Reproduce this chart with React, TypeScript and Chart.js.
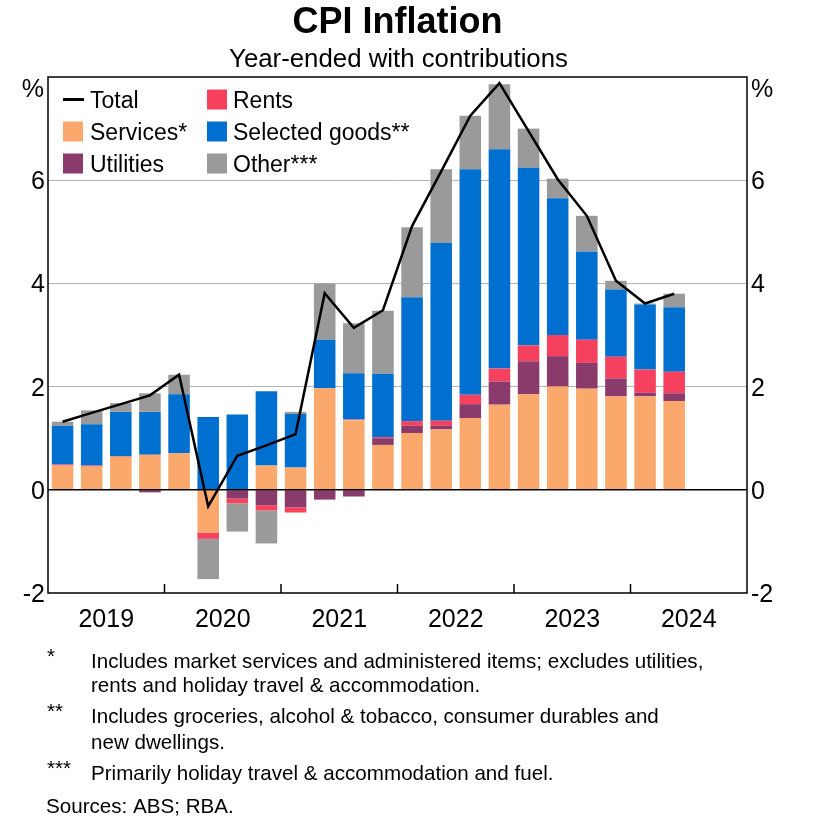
import React, { useEffect, useRef } from 'react';
import { Chart, registerables } from 'chart.js';

Chart.register(...registerables);

// ---- Data ----
const quarters = [
  'Mar-19', 'Jun-19', 'Sep-19', 'Dec-19',
  'Mar-20', 'Jun-20', 'Sep-20', 'Dec-20',
  'Mar-21', 'Jun-21', 'Sep-21', 'Dec-21',
  'Mar-22', 'Jun-22', 'Sep-22', 'Dec-22',
  'Mar-23', 'Jun-23', 'Sep-23', 'Dec-23',
  'Mar-24', 'Jun-24', 'Sep-24', 'Dec-24',
];
const yearLabels = ['2019', '2020', '2021', '2022', '2023', '2024'];
const yTickValues = [-2, 0, 2, 4, 6];
const yUnitLabel = '%';

const services = [0.47, 0.45, 0.64, 0.68, 0.71, -0.83, 0, 0.47, 0.43, 1.97, 1.35, 0.87, 1.10, 1.17, 1.39, 1.65, 1.85, 2.00, 1.96, 1.81, 1.81, 1.72];
const utilities = [0, 0, 0, -0.05, 0, 0, -0.17, -0.30, -0.34, -0.19, -0.13, 0.13, 0.14, 0.07, 0.27, 0.45, 0.64, 0.59, 0.50, 0.35, 0.07, 0.15];
const rents = [0.02, 0.02, 0.01, 0, 0, -0.12, -0.09, -0.10, -0.10, 0, 0.01, 0.02, 0.09, 0.10, 0.18, 0.25, 0.31, 0.41, 0.45, 0.42, 0.45, 0.42];
const selectedGoods = [0.75, 0.80, 0.86, 0.83, 1.14, 1.41, 1.46, 1.44, 1.04, 0.94, 0.90, 1.23, 2.40, 3.45, 4.37, 4.25, 3.44, 2.65, 1.71, 1.30, 1.26, 1.25];
const other = [0.08, 0.27, 0.17, 0.36, 0.38, -0.78, -0.55, -0.64, 0.04, 1.09, 0.97, 1.22, 1.36, 1.42, 1.04, 1.26, 0.76, 0.38, 0.69, 0.17, 0.02, 0.26];
const total = [1.32, 1.49, 1.66, 1.83, 2.23, -0.32, 0.66, 0.86, 1.08, 3.81, 3.14, 3.48, 5.11, 6.17, 7.25, 7.88, 6.95, 6.02, 5.31, 4.05, 3.61, 3.80];

const COLORS = {
  services: '#FAA86C',
  utilities: '#8A3B6C',
  rents: '#F5405E',
  goods: '#0070D0',
  other: '#9A9A9A',
};

const FONT = "'Liberation Sans', Arial, sans-serif";

const footnotes: { mark: string; lines: string[] }[] = [
  { mark: '*', lines: ['Includes market services and administered items; excludes utilities,', 'rents and holiday travel & accommodation.'] },
  { mark: '**', lines: ['Includes groceries, alcohol & tobacco, consumer durables and', 'new dwellings.'] },
  { mark: '***', lines: ['Primarily holiday travel & accommodation and fuel.'] },
];
const sourceText = 'Sources: ABS; RBA.';

const overlayPlugin = {
  id: 'overlay',
  beforeDatasetDraw(chart: any, args: any) {
    // zero line drawn over the bars but under the Total line
    if (args.meta.type !== 'line') return;
    const { ctx, chartArea } = chart;
    const y0 = chart.scales.y.getPixelForValue(0);
    ctx.save();
    ctx.strokeStyle = '#000';
    ctx.lineWidth = 1.5;
    ctx.beginPath();
    ctx.moveTo(chartArea.left, y0);
    ctx.lineTo(chartArea.right, y0);
    ctx.stroke();
    ctx.restore();
  },
  afterDraw(chart: any) {
    const { ctx, chartArea } = chart;
    const xs = chart.scales.x;
    const ys = chart.scales.y;
    ctx.save();
    // frame
    ctx.strokeStyle = '#000';
    ctx.lineWidth = 1.5;
    ctx.strokeRect(chartArea.left, chartArea.top, chartArea.right - chartArea.left, chartArea.bottom - chartArea.top);

    // year boundary ticks and year labels
    for (let k = 1; k < yearLabels.length; k++) {
      const x = (xs.getPixelForValue(4 * k - 1) + xs.getPixelForValue(4 * k)) / 2;
      ctx.beginPath();
      ctx.moveTo(x, chartArea.bottom);
      ctx.lineTo(x, chartArea.bottom - 9);
      ctx.stroke();
    }
    ctx.fillStyle = '#000';
    ctx.font = `25px ${FONT}`;
    ctx.textAlign = 'center';
    ctx.textBaseline = 'alphabetic';
    yearLabels.forEach((lab, k) => {
      const x = (xs.getPixelForValue(4 * k + 1) + xs.getPixelForValue(4 * k + 2)) / 2;
      ctx.fillText(lab, x, 627);
    });

    // y tick labels (both sides)
    yTickValues.forEach((v) => {
      const y = ys.getPixelForValue(v) + 9;
      ctx.textAlign = 'right';
      ctx.fillText(String(v), chartArea.left - 3, y);
      ctx.textAlign = 'left';
      ctx.fillText(String(v), chartArea.right + 4, y);
    });
    ctx.textAlign = 'right';
    ctx.fillText(yUnitLabel, chartArea.left - 4, 97);
    ctx.textAlign = 'left';
    ctx.fillText(yUnitLabel, chartArea.right + 4, 97);

    // titles
    const cx = (chartArea.left + chartArea.right) / 2;
    ctx.textAlign = 'center';
    ctx.font = `bold 36px ${FONT}`;
    ctx.fillText('CPI Inflation', cx, 33);
    ctx.font = `25.8px ${FONT}`;
    ctx.fillText('Year-ended with contributions', cx + 1, 67);

    // legend
    ctx.font = `23px ${FONT}`;
    ctx.textAlign = 'left';
    const legendItems = [
      { label: 'Total', kind: 'line', color: '#000', col: 0, row: 0 },
      { label: 'Rents', kind: 'box', color: COLORS.rents, col: 1, row: 0 },
      { label: 'Services*', kind: 'box', color: COLORS.services, col: 0, row: 1 },
      { label: 'Selected goods**', kind: 'box', color: COLORS.goods, col: 1, row: 1 },
      { label: 'Utilities', kind: 'box', color: COLORS.utilities, col: 0, row: 2 },
      { label: 'Other***', kind: 'box', color: COLORS.other, col: 1, row: 2 },
    ];
    const colX = [63, 207];
    const textX = [90, 233];
    legendItems.forEach((it) => {
      const yc = 99.5 + it.row * 32;
      const sx = colX[it.col];
      ctx.fillStyle = it.color;
      if (it.kind === 'line') {
        ctx.fillRect(sx, yc - 1.5, 21, 3);
      } else {
        ctx.fillRect(sx, yc - 10, 20, 20);
      }
      ctx.fillStyle = '#000';
      ctx.fillText(it.label, textX[it.col], yc + 8.5);
    });

    // footnotes
    ctx.font = `20.6px ${FONT}`;
    ctx.fillStyle = '#000';
    const baselines = [[668, 692], [723, 749], [780]];
    footnotes.forEach((fn, i) => {
      const bl = baselines[i];
      ctx.fillText(fn.mark, 47, bl[0] - 5);
      fn.lines.forEach((ln, j) => ctx.fillText(ln, 91, bl[j]));
    });
    ctx.fillText(sourceText, 46, 813);
    ctx.restore();
  },
};

export default function App() {
  const canvasRef = useRef<HTMLCanvasElement | null>(null);

  useEffect(() => {
    const canvas = canvasRef.current;
    if (!canvas) return;
    const gridColor = (c: any) => {
      const v = c.tick && c.tick.value;
      if (v === 2 || v === 4 || v === 6) return '#b4b4b4';
      return 'rgba(0,0,0,0)';
    };
    const chart = new Chart(canvas, {
      type: 'bar',
      data: {
        labels: quarters,
        datasets: [
          {
            type: 'line',
            label: 'Total',
            data: total,
            borderColor: '#000',
            backgroundColor: '#000',
            borderWidth: 2.5,
            pointRadius: 0,
            tension: 0,
            fill: false,
            order: 0,
            stack: 'total',
            yAxisID: 'y',
          } as any,
          { label: 'Services*', data: services, backgroundColor: COLORS.services, order: 1, stack: 'c', yAxisID: 'y' },
          { label: 'Utilities', data: utilities, backgroundColor: COLORS.utilities, order: 1, stack: 'c', yAxisID: 'y' },
          { label: 'Rents', data: rents, backgroundColor: COLORS.rents, order: 1, stack: 'c', yAxisID: 'y' },
          { label: 'Selected goods**', data: selectedGoods, backgroundColor: COLORS.goods, order: 1, stack: 'c', yAxisID: 'y' },
          { label: 'Other***', data: other, backgroundColor: COLORS.other, order: 1, stack: 'c', yAxisID: 'y' },
        ],
      },
      options: {
        animation: false,
        responsive: false,
        maintainAspectRatio: false,
        devicePixelRatio: 1,
        layout: { padding: { top: 77, left: 0, right: 0, bottom: 0 } },
        datasets: { bar: { barPercentage: 0.74, categoryPercentage: 1, borderWidth: 0 } } as any,
        plugins: {
          legend: { display: false },
          tooltip: { enabled: false },
          title: { display: false },
        },
        scales: {
          x: {
            stacked: true,
            ticks: { display: false },
            grid: { display: false },
            border: { display: false },
            afterFit: (s: any) => { s.height = 245; },
          },
          y: {
            stacked: true,
            position: 'left',
            min: -2,
            max: 8,
            ticks: { stepSize: 2, display: false },
            grid: { color: gridColor, lineWidth: 1, drawTicks: false },
            border: { display: false },
            afterFit: (s: any) => { s.width = 48; },
          },
          y2: {
            position: 'right',
            min: -2,
            max: 8,
            ticks: { stepSize: 2, display: false },
            grid: { display: false, drawTicks: false },
            border: { display: false },
            afterFit: (s: any) => { s.width = 88; },
          },
        },
      } as any,
      plugins: [overlayPlugin],
    });
    return () => chart.destroy();
  }, []);

  return (
    <div style={{ position: 'absolute', left: 0, top: 0, width: 835, height: 838, background: '#fff' }}>
      <canvas ref={canvasRef} width={835} height={838} style={{ display: 'block', width: 835, height: 838 }} />
    </div>
  );
}
